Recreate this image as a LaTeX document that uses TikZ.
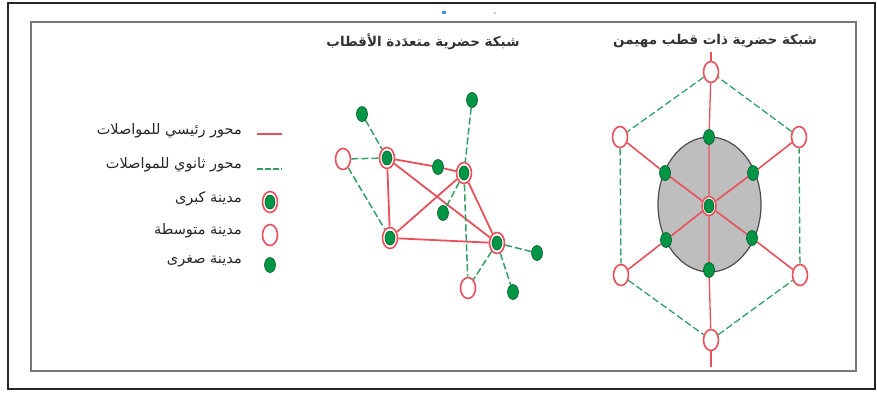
\documentclass[tikz,border=0pt]{standalone}
\usepackage{fontspec}
\usetikzlibrary{shapes.geometric}
\newfontfamily\arabicfont[Script=Arabic]{DejaVu Sans}
\TeXXeTstate=1
\definecolor{redline}{RGB}{232,80,92}
\definecolor{greenline}{RGB}{50,160,100}
\definecolor{cityfill}{RGB}{0,150,70}
\definecolor{cityedge}{RGB}{0,90,40}
\definecolor{grayfill}{RGB}{190,190,190}
\definecolor{framegray}{RGB}{120,120,120}
\definecolor{dotblue}{RGB}{60,150,220}
\pgfdeclarelayer{back}
\pgfdeclarelayer{edges}
\pgfsetlayers{back,edges,main}
\tikzset{
  medcity/.style={ellipse, draw=redline, line width=1.6pt, fill=white, minimum width=15pt, minimum height=21pt, inner sep=0pt},
  bigcity/.style={medcity, path picture={\fill[cityfill, draw=cityedge, line width=0.6pt] (path picture bounding box.center) ellipse (5pt and 7pt);}},
  smallcity/.style={ellipse, fill=cityfill, draw=cityedge, line width=0.6pt, minimum width=11pt, minimum height=15pt, inner sep=0pt},
  mainroad/.style={draw=redline, line width=1.8pt},
  secroad/.style={draw=greenline, line width=1.5pt, dash pattern=on 7pt off 3pt},
  artext/.style={font=\arabicfont\fontsize{14.5}{16}\selectfont, inner sep=0pt, text=black!85},
  artitle/.style={font=\arabicfont\bfseries\fontsize{13.5}{16}\selectfont, inner sep=0pt, text=black!80},
}
\begin{document}
\begin{tikzpicture}[x=1pt,y=-1pt]
\useasboundingbox (0,0) rectangle (877,392);
% frames
\draw[black!85, line width=1.2pt] (8,3) rectangle (875,389);
\draw[framegray, line width=1.8pt] (31,22) rectangle (856,371);
\fill[dotblue] (442,11) rectangle (446,13.5);
\fill[dotblue!40] (494,11.5) rectangle (495.5,13.5);

% ---------------- legend ----------------
\coordinate (l1a) at (257,134); \coordinate (l1b) at (282,134);
\coordinate (l2a) at (257,169); \coordinate (l2b) at (282,169);
\draw[mainroad, line width=1.3pt] (l1a) -- (l1b);
\draw[secroad, line width=1.3pt, dash pattern=on 6pt off 2pt] (l2a) -- (l2b);
\node[artext, anchor=east] (t1) at (242,131) {\beginR محور رئيسي للمواصلات\endR};
\node[artext, anchor=east] (t2) at (242,165) {\beginR محور ثانوي للمواصلات\endR};
\node[bigcity] (lg1) at (270,202) {};
\node[artext, anchor=east] (t3) at (242,199) {\beginR مدينة كبرى\endR};
\node[medcity] (lg2) at (270,235) {};
\node[artext, anchor=east] (t4) at (242,231) {\beginR مدينة متوسطة\endR};
\node[smallcity] (lg3) at (270,265) {};
\node[artext, anchor=east] (t5) at (242,261) {\beginR مدينة صغرى\endR};

% ---------------- multipolar network ----------------
\node[artitle] (title1) at (423,42) {\beginR شبكة حضرية  متعدَدة الأقطاب\endR};
\node[medcity] (mL) at (343,159) {};
\node[bigcity] (A) at (387,158) {};
\node[smallcity] (sAB) at (438,167) {};
\node[bigcity] (B) at (464,173) {};
\node[smallcity] (sIn) at (443,213) {};
\node[bigcity] (C) at (390,238) {};
\node[bigcity] (D) at (497,243) {};
\node[smallcity] (sR) at (537,253) {};
\node[medcity] (mB) at (468,288) {};
\node[smallcity] (sB) at (513,292) {};
\node[smallcity] (sTL) at (362,114) {};
\node[smallcity] (sT) at (472,100) {};
\begin{pgfonlayer}{edges}
\draw[mainroad] (A) -- (sAB) -- (B);
\draw[mainroad] (A) -- (C);
\draw[mainroad] (A) -- (D);
\draw[mainroad] (B) -- (C);
\draw[mainroad] (B) -- (D);
\draw[mainroad] (C) -- (D);
\draw[secroad] (mL) -- (A);
\draw[secroad] (mL) -- (C);
\draw[secroad] (sTL) -- (A);
\draw[secroad] (sT) -- (B);
\draw[secroad] (B) -- (mB);
\draw[secroad] (B) -- (sIn);
\draw[secroad] (D) -- (sR);
\draw[secroad] (D) -- (mB);
\draw[secroad] (D) -- (sB);
\end{pgfonlayer}

% ---------------- monopolar network ----------------
\node[artitle] (title2) at (715,41) {\beginR شبكة حضرية ذات قطب مهيمن\endR};
\begin{pgfonlayer}{back}
\node[ellipse, fill=grayfill, draw=black!70, line width=1.2pt, minimum width=103pt, minimum height=135pt, inner sep=0pt] (core) at (709.5,204.5) {};
\end{pgfonlayer}
\node[medcity] (hT) at (711,72) {};
\node[medcity] (hUL) at (620,137) {};
\node[medcity] (hUR) at (799,137) {};
\node[medcity] (hLL) at (621,275) {};
\node[medcity] (hLR) at (800,275) {};
\node[medcity] (hB) at (711,340) {};
\node[bigcity, minimum width=14pt, minimum height=19pt] (ctr) at (709,206) {};
\node[smallcity] (s1) at (709,137) {};
\node[smallcity] (s2) at (665,173) {};
\node[smallcity] (s3) at (753,173) {};
\node[smallcity] (s4) at (666,240) {};
\node[smallcity] (s5) at (752,238) {};
\node[smallcity] (s6) at (709,270) {};
\coordinate (vtop) at (711,52);
\coordinate (vbot) at (711,367);
\begin{pgfonlayer}{edges}
\draw[mainroad, line width=1.3pt] (vtop) -- (hT);
\draw[mainroad, line width=1.3pt] (hT) -- (s1) -- (ctr);
\draw[mainroad, line width=1.3pt] (ctr) -- (s6) -- (hB);
\draw[mainroad, line width=1.3pt] (hB) -- (vbot);
\draw[mainroad, line width=1.6pt] (ctr) -- (s2) -- (hUL);
\draw[mainroad, line width=1.6pt] (ctr) -- (s3) -- (hUR);
\draw[mainroad, line width=1.6pt] (ctr) -- (s4) -- (hLL);
\draw[mainroad, line width=1.6pt] (ctr) -- (s5) -- (hLR);
\draw[secroad, line width=1.3pt] (hT) -- (hUL);
\draw[secroad, line width=1.3pt] (hUL) -- (hLL);
\draw[secroad, line width=1.3pt] (hLL) -- (hB);
\draw[secroad, line width=1.3pt] (hB) -- (hLR);
\draw[secroad, line width=1.3pt] (hLR) -- (hUR);
\draw[secroad, line width=1.3pt] (hUR) -- (hT);
\end{pgfonlayer}
\end{tikzpicture}
\end{document}
